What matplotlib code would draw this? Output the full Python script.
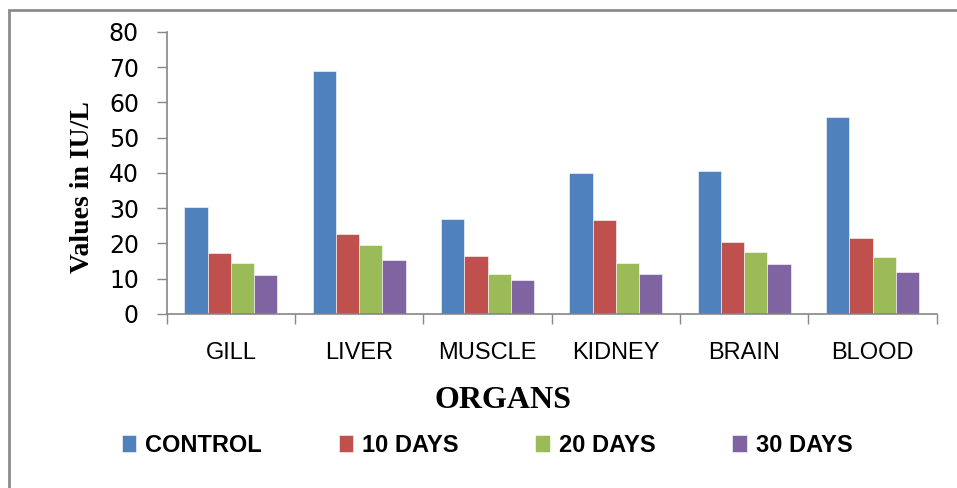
import matplotlib.pyplot as plt
import numpy as np
from matplotlib.patches import Rectangle

organs = ['GILL', 'LIVER', 'MUSCLE', 'KIDNEY', 'BRAIN', 'BLOOD']
series = ['CONTROL', '10 DAYS', '20 DAYS', '30 DAYS']
control = [30.3, 68.9, 26.8, 40.0, 40.4, 55.8]
days_10 = [17.2, 22.6, 16.4, 26.5, 20.3, 21.4]
days_20 = [14.5, 19.5, 11.4, 14.5, 17.6, 16.1]
days_30 = [11.0, 15.3, 9.5, 11.4, 14.1, 11.8]
colors = ['#4f81bd', '#c0504d', '#9bbb59', '#8064a2']

fig = plt.figure(figsize=(9.57, 4.88), dpi=100)
ax = fig.add_axes([0.1742, 0.3566, 0.8046, 0.5784])

x = np.arange(len(organs))
width = 0.181
handles = []
for i, (vals, name, c) in enumerate(zip([control, days_10, days_20, days_30], series, colors)):
    b = ax.bar(x + (i - 1.5) * width, vals, width, color=c, label=name,
               edgecolor='white', linewidth=0.4)
    handles.append(b)

ax.set_xlim(-0.5, len(organs) - 0.5)
ax.set_ylim(0, 80)
ax.set_yticks(range(0, 81, 10))
ax.set_yticklabels([str(v) for v in range(0, 81, 10)], fontsize=17, family='DejaVu Sans')

# x ticks sit on the category boundaries, labels in the middle
ax.set_xticks(np.arange(-0.5, len(organs), 1.0))
ax.set_xticklabels([])
ax.set_xticks(x, minor=True)
ax.set_xticklabels(organs, minor=True, fontsize=17, family='Liberation Sans')
ax.tick_params(axis='x', which='minor', length=0, pad=20)
ax.tick_params(axis='x', which='major', length=7, color='#868686', width=1)
ax.tick_params(axis='y', length=7, color='#868686', width=1, pad=13)

for s in ['top', 'right']:
    ax.spines[s].set_visible(False)
for s in ['left', 'bottom']:
    ax.spines[s].set_color('#868686')
    ax.spines[s].set_linewidth(1.2)

fig.text(0.086, 0.617, 'Values in IU/L', rotation=90, ha='center', va='center',
         fontsize=20, fontweight='bold', family='Liberation Serif')
fig.text(0.526, 0.18, 'ORGANS', ha='center', va='center',
         fontsize=23, fontweight='bold', family='Liberation Serif')

fig.legend(handles=handles, labels=series, loc='center', bbox_to_anchor=(0.509, 0.088),
           ncol=4, frameon=False, handlelength=0.6, handleheight=0.75, handletextpad=0.4,
           columnspacing=3.25, prop={'family': 'Liberation Sans', 'weight': 'bold', 'size': 17})

# outer chart border
fig.patches.append(Rectangle((9 / 957, -0.05), 1.1, 1.05 - 10 / 488,
                             transform=fig.transFigure, fill=False,
                             edgecolor='#8c8c8c', linewidth=2))

fig.savefig('out.png', dpi=100)
